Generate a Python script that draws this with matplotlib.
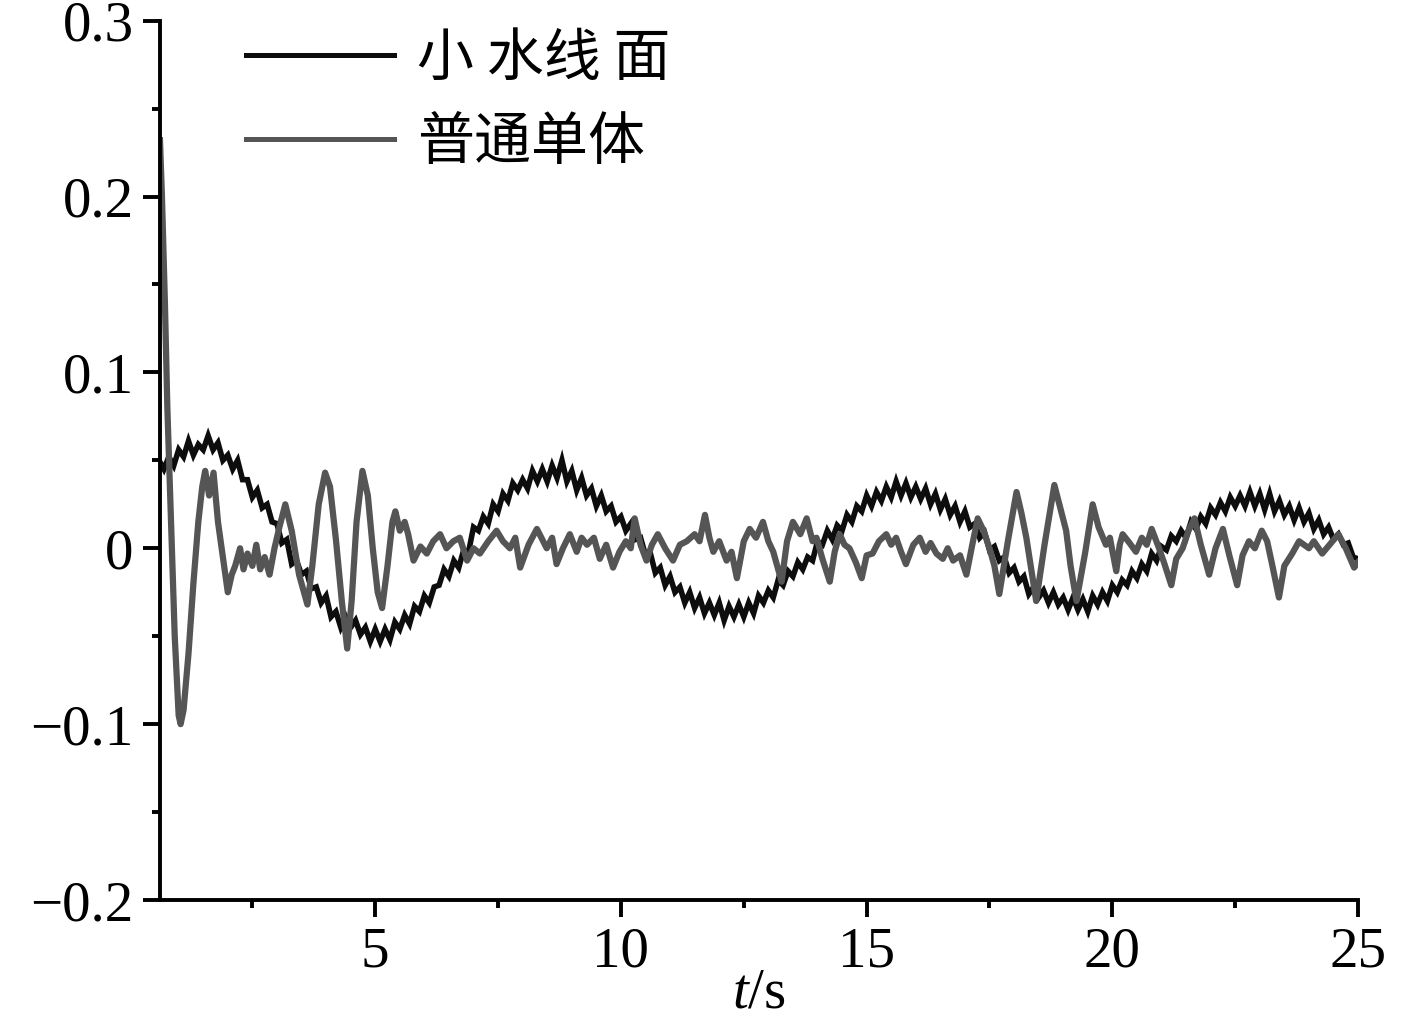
import numpy as np
import matplotlib
matplotlib.use("Agg")
import matplotlib.pyplot as plt
from matplotlib import ticker

plt.rcParams['font.family'] = ['Liberation Serif', 'DejaVu Serif']
plt.rcParams['mathtext.fontset'] = 'custom'
plt.rcParams['mathtext.it'] = 'Liberation Serif:italic'
plt.rcParams['mathtext.rm'] = 'Liberation Serif'

# 小水线面 (sampled every 0.1 s, 0.6 .. 25.0 s)
t_swath = np.round(np.arange(0.6, 25.001, 0.1), 2)
v_swath = [
    0.050, 0.045, 0.052, 0.047, 0.056, 0.052, 0.061, 0.053, 0.059, 0.056,
    0.064, 0.056, 0.060, 0.050, 0.053, 0.045, 0.050, 0.039, 0.039, 0.029,
    0.033, 0.023, 0.025, 0.015, 0.014, 0.003, 0.005, -0.009, -0.007, -0.015,
    -0.013, -0.023, -0.022, -0.031, -0.027, -0.039, -0.036, -0.045, -0.039, -0.045,
    -0.041, -0.049, -0.045, -0.053, -0.046, -0.053, -0.046, -0.052, -0.042, -0.046,
    -0.038, -0.043, -0.033, -0.036, -0.027, -0.031, -0.022, -0.021, -0.012, -0.016,
    -0.007, -0.011, -0.001, -0.002, 0.012, 0.010, 0.018, 0.014, 0.025, 0.021,
    0.031, 0.027, 0.037, 0.033, 0.039, 0.034, 0.044, 0.038, 0.045, 0.038,
    0.047, 0.040, 0.050, 0.038, 0.044, 0.033, 0.040, 0.030, 0.034, 0.024,
    0.030, 0.021, 0.024, 0.015, 0.018, 0.010, 0.014, 0.005, 0.006, -0.004,
    -0.003, -0.014, -0.011, -0.021, -0.016, -0.025, -0.022, -0.031, -0.025, -0.034,
    -0.028, -0.037, -0.031, -0.038, -0.031, -0.041, -0.033, -0.039, -0.032, -0.039,
    -0.031, -0.037, -0.027, -0.031, -0.024, -0.028, -0.018, -0.021, -0.013, -0.016,
    -0.008, -0.012, -0.005, -0.007, 0.004, 0.002, 0.010, 0.005, 0.013, 0.010,
    0.019, 0.015, 0.024, 0.021, 0.030, 0.024, 0.032, 0.027, 0.035, 0.029,
    0.038, 0.030, 0.037, 0.029, 0.035, 0.028, 0.034, 0.025, 0.031, 0.022,
    0.028, 0.019, 0.024, 0.015, 0.021, 0.012, 0.014, 0.006, 0.009, -0.001,
    0.001, -0.007, -0.005, -0.014, -0.011, -0.019, -0.016, -0.026, -0.022, -0.028,
    -0.024, -0.031, -0.025, -0.032, -0.028, -0.035, -0.028, -0.035, -0.029, -0.036,
    -0.027, -0.032, -0.025, -0.030, -0.021, -0.025, -0.018, -0.021, -0.013, -0.017,
    -0.009, -0.013, -0.003, -0.007, 0.001, -0.001, 0.007, 0.004, 0.010, 0.006,
    0.015, 0.011, 0.018, 0.014, 0.023, 0.019, 0.026, 0.021, 0.029, 0.024,
    0.030, 0.024, 0.032, 0.024, 0.031, 0.022, 0.031, 0.021, 0.027, 0.019,
    0.024, 0.016, 0.023, 0.015, 0.020, 0.011, 0.016, 0.008, 0.012, 0.005,
    0.008, 0.002, 0.003, -0.005, -0.006,
]

# 普通单体
t_mono = [
    0.62, 0.66, 0.72, 0.77, 0.84, 0.92, 1.0, 1.04, 1.1, 1.2, 1.3, 1.4, 1.48, 1.54,
    1.62, 1.71, 1.8, 1.9, 2.0, 2.08, 2.15, 2.25, 2.32, 2.4, 2.5, 2.58, 2.66, 2.75,
    2.85, 2.95, 3.05, 3.17, 3.3, 3.45, 3.62, 3.72, 3.85, 3.98, 4.08, 4.2, 4.32,
    4.43, 4.52, 4.62, 4.74, 4.85, 4.95, 5.05, 5.14, 5.25, 5.35, 5.41, 5.5, 5.6,
    5.67, 5.78, 5.92, 6.05, 6.18, 6.32, 6.45, 6.59, 6.72, 6.87, 7.0, 7.13, 7.3,
    7.47, 7.6, 7.74, 7.85, 7.95, 8.12, 8.29, 8.4, 8.49, 8.6, 8.69, 8.82, 8.96,
    9.1, 9.2, 9.31, 9.45, 9.57, 9.7, 9.84, 9.97, 10.1, 10.2, 10.28, 10.4, 10.52,
    10.63, 10.75, 10.9, 11.06, 11.2, 11.34, 11.5, 11.6, 11.71, 11.8, 11.88, 12.0,
    12.15, 12.25, 12.36, 12.5, 12.62, 12.75, 12.89, 13.0, 13.1, 13.27, 13.38,
    13.5, 13.65, 13.78, 13.9, 13.98, 14.1, 14.25, 14.35, 14.45, 14.55, 14.65,
    14.78, 14.9, 15.0, 15.12, 15.25, 15.4, 15.5, 15.6, 15.7, 15.8, 15.95, 16.08,
    16.2, 16.3, 16.42, 16.55, 16.65, 16.76, 16.9, 17.03, 17.15, 17.26, 17.38,
    17.5, 17.6, 17.7, 17.88, 18.05, 18.15, 18.25, 18.35, 18.45, 18.62, 18.82,
    18.95, 19.06, 19.15, 19.27, 19.45, 19.6, 19.72, 19.87, 19.95, 20.08, 20.15,
    20.21, 20.35, 20.48, 20.6, 20.7, 20.8, 20.95, 21.05, 21.2, 21.3, 21.43,
    21.55, 21.67, 21.8, 21.97, 22.1, 22.25, 22.38, 22.54, 22.65, 22.78, 22.9,
    23.04, 23.15, 23.25, 23.39, 23.5, 23.66, 23.8, 24.0, 24.1, 24.27, 24.45,
    24.6, 24.75, 24.92, 25.0,
]
v_mono = [
    0.232, 0.200, 0.140, 0.080, 0.020, -0.050, -0.095, -0.100, -0.092, -0.060,
    -0.020, 0.015, 0.035, 0.044, 0.030, 0.043, 0.015, -0.005, -0.025, -0.015,
    -0.010, 0.000, -0.012, -0.003, -0.010, 0.002, -0.012, -0.005, -0.015, 0.000,
    0.012, 0.025, 0.010, -0.015, -0.032, -0.010, 0.025, 0.043, 0.035, 0.005,
    -0.030, -0.057, -0.030, 0.015, 0.044, 0.030, 0.000, -0.025, -0.034, -0.010,
    0.015, 0.021, 0.010, 0.015, 0.008, -0.007, 0.001, -0.003, 0.004, 0.008,
    0.000, 0.004, 0.006, -0.007, 0.000, -0.003, 0.004, 0.010, 0.004, 0.000,
    0.006, -0.011, 0.002, 0.011, 0.005, 0.000, 0.006, -0.009, 0.000, 0.008,
    -0.002, 0.006, 0.002, 0.006, -0.006, 0.002, -0.011, -0.002, 0.004, 0.000,
    0.017, 0.002, -0.007, 0.002, 0.008, 0.000, -0.007, 0.002, 0.004, 0.008,
    0.004, 0.019, 0.006, -0.002, 0.004, -0.007, -0.002, -0.017, 0.004, 0.011,
    0.006, 0.015, 0.004, -0.002, -0.019, 0.004, 0.015, 0.008, 0.017, 0.004,
    0.006, -0.006, -0.019, -0.002, 0.008, 0.002, 0.000, -0.008, -0.017, -0.004,
    -0.003, 0.004, 0.008, 0.002, 0.006, -0.002, -0.009, 0.002, 0.006, -0.002,
    0.003, -0.003, -0.006, 0.000, -0.007, -0.004, -0.015, 0.002, 0.017, 0.010,
    0.000, -0.010, -0.026, 0.005, 0.032, 0.020, 0.006, -0.012, -0.030, 0.002,
    0.036, 0.022, 0.010, -0.010, -0.030, -0.002, 0.025, 0.012, 0.002, 0.006,
    -0.013, 0.002, 0.008, 0.003, -0.002, 0.006, 0.002, 0.011, 0.000, -0.008,
    -0.021, -0.006, 0.000, 0.010, 0.017, 0.002, -0.015, 0.000, 0.011, -0.004,
    -0.021, -0.004, 0.004, 0.000, 0.010, 0.004, -0.009, -0.028, -0.010, -0.003,
    0.004, 0.000, 0.004, -0.003, 0.003, 0.008, 0.000, -0.011, -0.008,
]

labels = ['小 水线 面', '普通单体']

fig = plt.figure(figsize=(14.17, 10.18), dpi=100)
ax = fig.add_axes([0.1129, 0.1159, 0.8455, 0.8638])

ax.plot(t_swath, v_swath, color='#0d0d0d', lw=4.0, solid_joinstyle='miter',
        label=labels[0])
ax.plot(t_mono, v_mono, color='#555555', lw=4.5, label=labels[1])

ax.set_xlim(0.62, 25)
ax.set_ylim(-0.2, 0.3)
ax.xaxis.set_major_locator(ticker.MultipleLocator(5))
ax.xaxis.set_minor_locator(ticker.MultipleLocator(2.5))
ax.yaxis.set_major_locator(ticker.MultipleLocator(0.1))
ax.yaxis.set_minor_locator(ticker.MultipleLocator(0.05))


def yfmt(v, pos):
    if abs(v) < 1e-9:
        return '0'
    return f'{v:.1f}'.replace('-', '\u2212')


ax.yaxis.set_major_formatter(ticker.FuncFormatter(yfmt))
ax.xaxis.set_major_formatter(ticker.FuncFormatter(lambda v, p: f'{v:g}'))

for s in ['top', 'right']:
    ax.spines[s].set_visible(False)
for s in ['left', 'bottom']:
    ax.spines[s].set_linewidth(2.8)

ax.tick_params(which='major', direction='out', length=12, width=2.8,
               labelsize=41, pad=7)
ax.tick_params(which='minor', direction='out', length=6, width=2.8)

ax.set_xlabel('$t$/s', fontsize=41, labelpad=-8)

leg = ax.legend(loc='upper left', bbox_to_anchor=(0.072, 0.99),
                frameon=False, borderpad=0, borderaxespad=0,
                handlelength=2.6, handletextpad=0.4, labelspacing=0.45,
                prop={'family': ['Noto Sans CJK SC'], 'size': 41})
for line in leg.get_lines():
    line.set_linewidth(3.6)

fig.savefig('out.png', dpi=100)
